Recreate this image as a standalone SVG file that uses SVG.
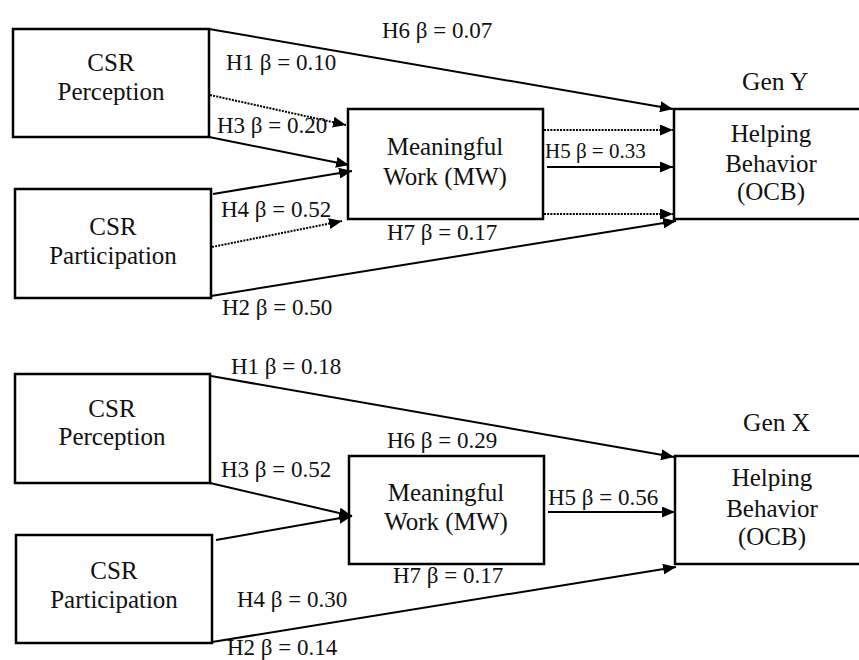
<svg xmlns="http://www.w3.org/2000/svg" width="859" height="660" viewBox="0 0 859 660">
  <style>
    .box { fill: #fff; stroke: #000; stroke-width: 2.5; }
    text { font-family: "Liberation Serif", "Tinos", "DejaVu Serif", "Noto Serif", serif; font-size: 23px; fill: #111; }
    .n { font-size: 25px; text-anchor: middle; }
    .gen { font-size: 25.5px; }
    .sm { font-size: 21px; }
    .solid { stroke: #000; stroke-width: 2; fill: none; marker-end: url(#arrow); }
    .dot { stroke: #000; stroke-width: 2; fill: none; stroke-dasharray: 2 1.2; marker-end: url(#arrow); }
  </style>
  <defs>
    <marker id="arrow" markerUnits="userSpaceOnUse" markerWidth="13" markerHeight="11" refX="13" refY="5.5" orient="auto">
      <path d="M0,0 L13,5.5 L0,11 z" fill="#000"/>
    </marker>
  </defs>
  <rect width="859" height="660" fill="#fff"/>

  <!-- Gen Y model -->
  <g id="y-csr-perception">
    <rect class="box" x="13" y="29" width="196" height="108"/>
    <text class="n" x="111" y="71">CSR</text>
    <text class="n" x="111" y="100">Perception</text>
  </g>
  <g id="y-csr-participation">
    <rect class="box" x="15" y="189" width="196" height="109"/>
    <text class="n" x="113" y="235">CSR</text>
    <text class="n" x="113" y="264">Participation</text>
  </g>
  <g id="y-meaningful-work">
    <rect class="box" x="348" y="109" width="195" height="110"/>
    <text class="n" x="445" y="155">Meaningful</text>
    <text class="n" x="445" y="185">Work (MW)</text>
  </g>
  <g id="y-helping-behavior">
    <rect class="box" x="674" y="109" width="200" height="110"/>
    <text class="n" x="771" y="142">Helping</text>
    <text class="n" x="771" y="172">Behavior</text>
    <text class="n" x="771" y="200">(OCB)</text>
    <text class="gen" x="742" y="90">Gen Y</text>
  </g>

  <!-- Gen X model -->
  <g id="x-csr-perception">
    <rect class="box" x="15" y="374" width="195" height="109"/>
    <text class="n" x="112" y="417">CSR</text>
    <text class="n" x="112" y="445">Perception</text>
  </g>
  <g id="x-csr-participation">
    <rect class="box" x="16" y="535" width="196" height="108"/>
    <text class="n" x="114" y="579">CSR</text>
    <text class="n" x="114" y="608">Participation</text>
  </g>
  <g id="x-meaningful-work">
    <rect class="box" x="349" y="456" width="195" height="108"/>
    <text class="n" x="446" y="501">Meaningful</text>
    <text class="n" x="446" y="530">Work (MW)</text>
  </g>
  <g id="x-helping-behavior">
    <rect class="box" x="675" y="456" width="200" height="108"/>
    <text class="n" x="772" y="486">Helping</text>
    <text class="n" x="772" y="517">Behavior</text>
    <text class="n" x="772" y="545">(OCB)</text>
    <text class="gen" x="743" y="431">Gen X</text>
  </g>

  <!-- Connectors -->
  <g id="connectors">
    <!-- Gen Y paths -->
    <line class="solid" x1="209" y1="29" x2="673" y2="109"/>
    <line class="dot" x1="210" y1="95" x2="346" y2="125"/>
    <line class="solid" x1="209" y1="137" x2="349" y2="165"/>
    <line class="solid" x1="213" y1="194" x2="352" y2="171"/>
    <line class="dot" x1="212" y1="247" x2="342" y2="221"/>
    <line class="solid" x1="211" y1="296" x2="676" y2="221"/>
    <line class="dot" x1="544" y1="130" x2="673" y2="130"/>
    <line class="solid" x1="547" y1="167" x2="673" y2="167"/>
    <line class="dot" x1="544" y1="214" x2="673" y2="214"/>
    <!-- Gen X paths -->
    <line class="solid" x1="211" y1="376" x2="674" y2="457"/>
    <line class="solid" x1="210" y1="483" x2="352" y2="516"/>
    <line class="solid" x1="216" y1="540" x2="352" y2="516"/>
    <line class="solid" x1="212" y1="642" x2="676" y2="567"/>
    <line class="solid" x1="548" y1="512" x2="675" y2="512"/>
  </g>

  <!-- Path coefficients -->
  <g id="labels">
    <text x="382" y="38">H6 β = 0.07</text>
    <text x="226" y="70">H1 β = 0.10</text>
    <text x="217" y="133">H3 β = 0.20</text>
    <text x="221" y="217">H4 β = 0.52</text>
    <text x="387" y="240">H7 β = 0.17</text>
    <text x="222" y="315">H2 β = 0.50</text>
    <text class="sm" x="545" y="158">H5 β = 0.33</text>

    <text x="231" y="374">H1 β = 0.18</text>
    <text x="387" y="448">H6 β = 0.29</text>
    <text x="221" y="477">H3 β = 0.52</text>
    <text x="393" y="583">H7 β = 0.17</text>
    <text x="237" y="607">H4 β = 0.30</text>
    <text x="227" y="655">H2 β = 0.14</text>
    <text x="548" y="505">H5 β = 0.56</text>
  </g>
</svg>
